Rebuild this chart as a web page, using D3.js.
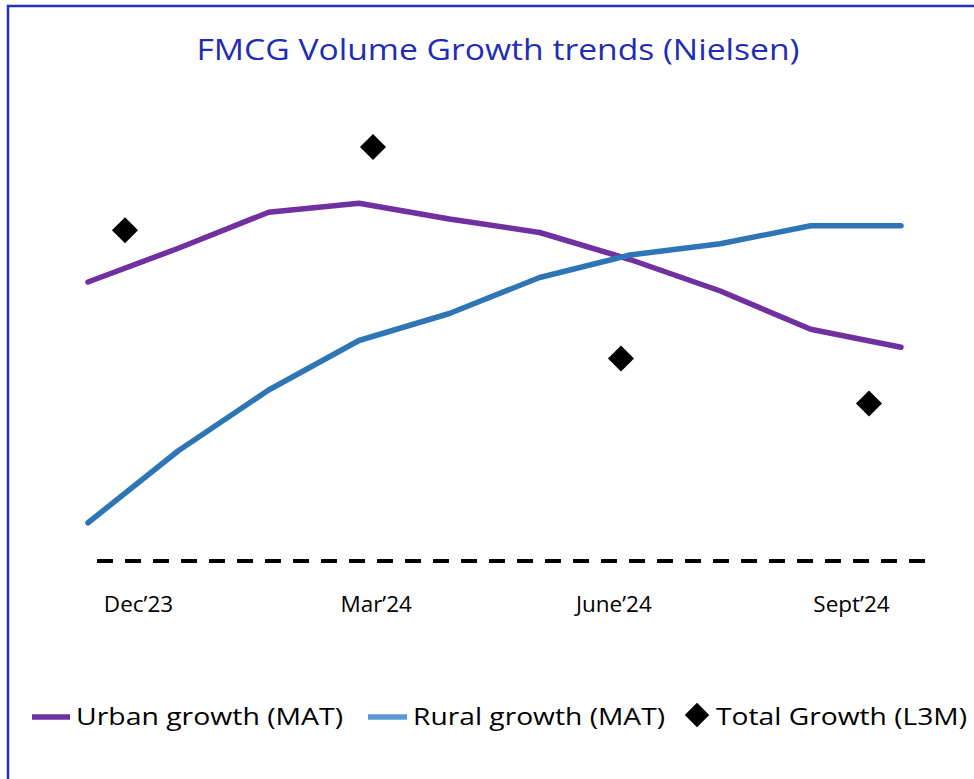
<!DOCTYPE html>
<html>
<head>
<meta charset="utf-8">
<script src="https://cdn.jsdelivr.net/npm/d3@7"></script>
<style>
  html, body { margin: 0; padding: 0; background: #fff; }
  svg { display: block; font-family: "Open Sans", "Noto Sans", sans-serif; }
</style>
</head>
<body>
<svg id="chart" width="974" height="779"></svg>
<script>
// ---- data ----
const months = ["Dec’23","Jan’24","Feb’24","Mar’24","Apr’24","May’24","Jun’24","Jul’24","Aug’24","Sep’24"];
const urbanGrowth = [6.2, 6.95, 7.75, 7.95, 7.6, 7.3, 6.7, 6.0, 5.15, 4.75];
const ruralGrowth = [0.85, 2.45, 3.8, 4.9, 5.5, 6.3, 6.8, 7.05, 7.45, 7.45];
const quarters = ["Dec’23","Mar’24","June’24","Sept’24"];
const totalGrowth = [7.35, 9.2, 4.5, 3.5];
const seriesNames = ["Urban growth (MAT)", "Rural growth (MAT)", "Total Growth (L3M)"];
const titleText = "FMCG Volume Growth trends (Nielsen)";

// ---- setup ----
const svg = d3.select("#chart");
const W = 974, H = 779;

// frame (top + left border visible)
svg.append("path")
  .attr("d", `M8,${H} L8,6 L${W},6`)
  .attr("fill", "none").attr("stroke", "#2233bb").attr("stroke-width", 2.5);

// title
svg.append("text")
  .attr("x", 498).attr("y", 60)
  .attr("text-anchor", "middle")
  .attr("font-size", 30)
  .attr("textLength", 603).attr("lengthAdjust", "spacingAndGlyphs")
  .attr("fill", "#1f2db5")
  .text(titleText);

const y = d3.scaleLinear().domain([0, 10]).range([561, 111]);
const xMonth = d3.scalePoint().domain(months).range([88, 901]);
const xQuarter = d3.scalePoint().domain(quarters).range([125, 869]);
const xLabel = d3.scalePoint().domain(quarters).range([138, 851]);

// zero baseline (dashed)
svg.append("line")
  .attr("x1", 97).attr("x2", 925)
  .attr("y1", y(0)).attr("y2", y(0))
  .attr("stroke", "#000").attr("stroke-width", 4)
  .attr("stroke-dasharray", "16 12");

// category axis labels
const axis = d3.axisBottom(xLabel).tickSize(0).tickPadding(0);
const gAxis = svg.append("g").attr("transform", `translate(0, 596)`).call(axis);
gAxis.select(".domain").remove();
gAxis.selectAll("text")
  .attr("font-size", 22.5)
  .attr("font-family", "'Open Sans', 'Noto Sans', sans-serif")
  .attr("fill", "#000");

// lines
const line = d3.line().x((d, i) => xMonth(months[i])).y(d => y(d));
svg.append("path").datum(urbanGrowth)
  .attr("d", line).attr("fill", "none")
  .attr("stroke", "#7030a0").attr("stroke-width", 5.5)
  .attr("stroke-linecap", "round").attr("stroke-linejoin", "round");
svg.append("path").datum(ruralGrowth)
  .attr("d", line).attr("fill", "none")
  .attr("stroke", "#2e75b6").attr("stroke-width", 5.5)
  .attr("stroke-linecap", "round").attr("stroke-linejoin", "round");

// diamonds
svg.selectAll(".tot").data(totalGrowth).join("path")
  .attr("class", "tot")
  .attr("d", d3.symbol().type(d3.symbolSquare).size(340))
  .attr("transform", (d, i) => `translate(${xQuarter(quarters[i])},${y(d)}) rotate(45)`)
  .attr("fill", "#000");

// legend
const lg = svg.append("g");
const legY = 717;
lg.append("line").attr("x1", 32).attr("x2", 70).attr("y1", legY).attr("y2", legY)
  .attr("stroke", "#7030a0").attr("stroke-width", 5.5);
lg.append("text").attr("x", 76).attr("y", 725).attr("font-size", 23)
  .attr("textLength", 267).attr("lengthAdjust", "spacingAndGlyphs")
  .text(seriesNames[0]);
lg.append("line").attr("x1", 368).attr("x2", 407).attr("y1", legY).attr("y2", legY)
  .attr("stroke", "#5b9bd5").attr("stroke-width", 5.5);
lg.append("text").attr("x", 413).attr("y", 725).attr("font-size", 23)
  .attr("textLength", 252).attr("lengthAdjust", "spacingAndGlyphs")
  .text(seriesNames[1]);
lg.append("path").attr("d", d3.symbol().type(d3.symbolSquare).size(300))
  .attr("transform", `translate(697,${legY - 2}) rotate(45)`).attr("fill", "#000");
lg.append("text").attr("x", 716).attr("y", 725).attr("font-size", 23)
  .attr("textLength", 251).attr("lengthAdjust", "spacingAndGlyphs")
  .text(seriesNames[2]);
</script>
</body>
</html>
